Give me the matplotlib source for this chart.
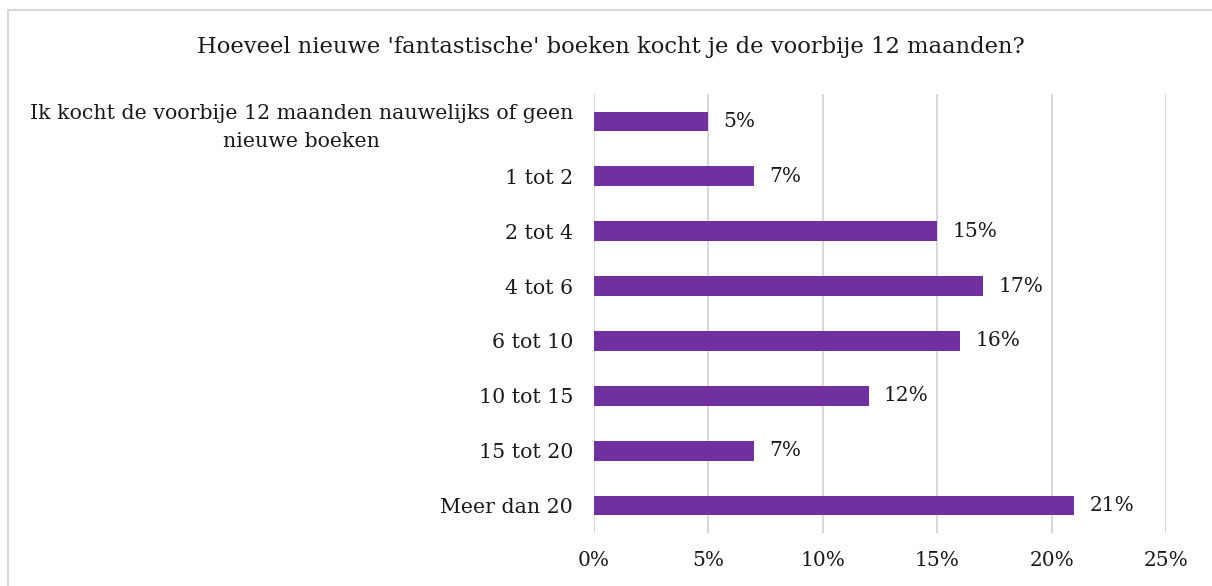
import matplotlib.pyplot as plt
from matplotlib.patches import Rectangle
from matplotlib.ticker import FuncFormatter

# Data
categories = [
    "Ik kocht de voorbije 12 maanden nauwelijks of geen\nnieuwe boeken",
    "1 tot 2",
    "2 tot 4",
    "4 tot 6",
    "6 tot 10",
    "10 tot 15",
    "15 tot 20",
    "Meer dan 20",
]
values = [5, 7, 15, 17, 16, 12, 7, 21]
x_ticks = [0, 5, 10, 15, 20, 25]

title = "Hoeveel nieuwe 'fantastische' boeken kocht je de voorbije 12 maanden?"
bar_color = "#7030A0"
grid_color = "#d9d9d9"
text_color = "#1a1a1a"

plt.rcParams['font.family'] = ['DejaVu Serif']

fig = plt.figure(figsize=(12.12, 5.86), dpi=100)
ax = fig.add_axes([594 / 1212, 1 - 533 / 586, (1166 - 594) / 1212, (533 - 94) / 586])

pos = list(range(len(categories)))
ax.barh(pos, values, height=0.36, color=bar_color, zorder=3)
ax.set_ylim(len(categories) - 0.5, -0.5)
ax.set_xlim(0, 25)

ax.set_xticks(x_ticks)
ax.xaxis.set_major_formatter(FuncFormatter(lambda v, p: f"{v:.0f}%"))
ax.set_yticks(pos)
ax.set_yticklabels(categories)
for lbl in ax.get_yticklabels():
    lbl.set_multialignment('center')
    lbl.set_linespacing(1.55)

ax.tick_params(axis='x', length=0, pad=13, labelsize=14.5, colors=text_color)
ax.tick_params(axis='y', length=0, pad=15, labelsize=14.8, colors=text_color)

ax.grid(axis='x', color=grid_color, linewidth=1.5, zorder=0)
for s in ax.spines.values():
    s.set_visible(False)

# value labels
for p, v in zip(pos, values):
    ax.annotate(f"{v}%", xy=(v, p), xytext=(11, 0), textcoords='offset points',
                va='center', ha='left', fontsize=14.5, color=text_color)

fig.text(611 / 1212, 1 - 47 / 586, title, ha='center', va='center',
         fontsize=16.3, color=text_color)

# chart border
fig.patches.append(Rectangle((8 / 1212, -0.05), 1.0, 1 - 10 / 586 + 0.05,
                             transform=fig.transFigure, fill=False,
                             edgecolor=grid_color, linewidth=1.5))

fig.savefig("out.png", dpi=100, facecolor="white")
